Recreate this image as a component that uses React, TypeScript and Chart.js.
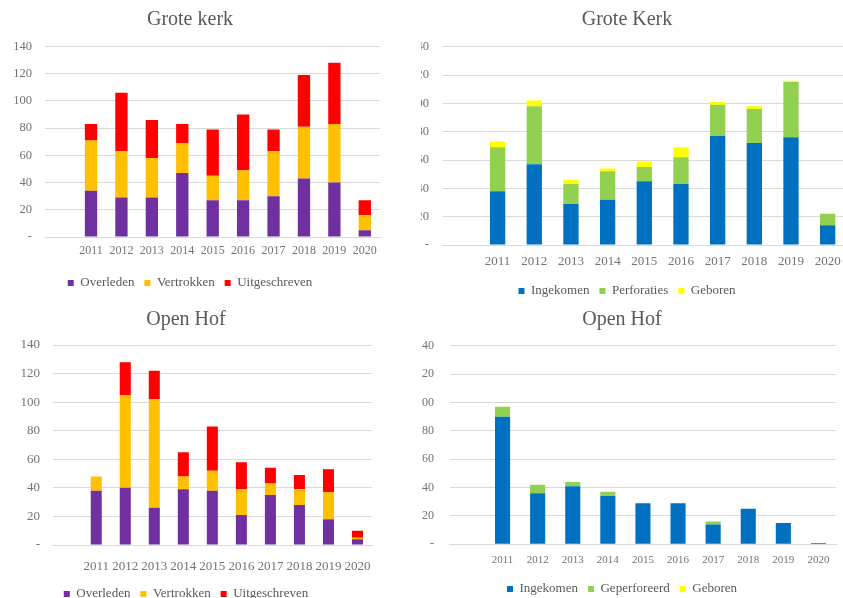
import React, { useEffect, useRef } from "react";
import Chart from "chart.js/auto";

// ---------- data ----------
const years = ["2011", "2012", "2013", "2014", "2015", "2016", "2017", "2018", "2019", "2020"];
const yTickMax = 140;
const yTickStep = 20;

// Grote kerk (uitgaand)
const gkOverleden = [34, 29, 29, 47, 27, 27, 30, 43, 40, 5];
const gkVertrokken = [37, 34, 29, 22, 18, 22, 33, 38, 43, 11];
const gkUitgeschreven = [12, 43, 28, 14, 34, 41, 16, 38, 45, 11];

// Grote Kerk (inkomend)
const gkIngekomen = [38, 57, 29, 32, 45, 43, 77, 72, 76, 14];
const gkPerforaties = [31, 41, 14, 20, 10, 19, 22, 24, 39, 8];
const gkGeboren = [4, 4, 3, 2, 4, 7, 2, 2, 1, 0];

// Open Hof (uitgaand)
const ohOverleden = [38, 40, 26, 39, 38, 21, 35, 28, 18, 4];
const ohVertrokken = [10, 65, 76, 9, 14, 18, 8, 11, 19, 1];
const ohUitgeschreven = [0, 23, 20, 17, 31, 19, 11, 10, 16, 5];

// Open Hof (inkomend)
const ohIngekomen = [90, 36, 41, 34, 29, 29, 14, 25, 15, 1];
const ohGeperforeerd = [7, 6, 3, 3, 0, 0, 2, 0, 0, 0];
const ohGeboren = [0, 0, 0, 0, 0, 0, 0, 0, 0, 0];

const outNames = ["Overleden", "Vertrokken", "Uitgeschreven"];
const outColors = ["#7030A0", "#FFC000", "#FF0000"];
const inColors = ["#0070C0", "#92D050", "#FFFF00"];

const FONT = "'Liberation Serif', 'Times New Roman', serif";
const TEXT = "#595959";
const TICK = "#737373";

type Spec = {
  title: string;
  names: string[];
  colors: string[];
  values: number[][];
  wrap: { left: number; top: number; width: number; height: number };
  canvas: { left: number; top: number; width: number; height: number };
  yAxisWidth: number;
  xAxisHeight: number;
  padRight: number;
  padBottom: number;
  titlePadTop: number;
  titlePadBottom: number;
  barPct: number;
  yFont: number;
  xFont: number;
  yPad: number;
  xPad: number;
};

const specs: Spec[] = [
  {
    title: "Grote kerk",
    names: outNames,
    colors: outColors,
    values: [gkOverleden, gkVertrokken, gkUitgeschreven],
    wrap: { left: 0, top: 0, width: 421, height: 300 },
    canvas: { left: 0, top: 0, width: 400, height: 300 },
    yAxisWidth: 45.4,
    xAxisHeight: 29.5,
    padRight: 20,
    padBottom: 0.5,
    titlePadTop: 8,
    titlePadBottom: 14.5,
    barPct: 0.405,
    yFont: 12.5,
    xFont: 12,
    yPad: 13.4,
    xPad: 7,
  },
  {
    title: "Grote Kerk",
    names: ["Ingekomen", "Perforaties", "Geboren"],
    colors: inColors,
    values: [gkIngekomen, gkPerforaties, gkGeboren],
    wrap: { left: 421, top: 0, width: 422, height: 300 },
    canvas: { left: -13, top: 0, width: 444, height: 310 },
    yAxisWidth: 34.6,
    xAxisHeight: 29.5,
    padRight: 6,
    padBottom: 2.5,
    titlePadTop: 8,
    titlePadBottom: 14.7,
    barPct: 0.417,
    yFont: 12.5,
    xFont: 13,
    yPad: 13.6,
    xPad: 9,
  },
  {
    title: "Open Hof",
    names: outNames,
    colors: outColors,
    values: [ohOverleden, ohVertrokken, ohUitgeschreven],
    wrap: { left: 0, top: 300, width: 421, height: 298 },
    canvas: { left: 0, top: 0, width: 398, height: 310 },
    yAxisWidth: 52.7,
    xAxisHeight: 32.5,
    padRight: 26,
    padBottom: -0.5,
    titlePadTop: 8,
    titlePadBottom: 13,
    barPct: 0.38,
    yFont: 13,
    xFont: 13,
    yPad: 12.7,
    xPad: 14,
  },
  {
    title: "Open Hof",
    names: ["Ingekomen", "Geperforeerd", "Geboren"],
    colors: inColors,
    values: [ohIngekomen, ohGeperforeerd, ohGeboren],
    wrap: { left: 421, top: 300, width: 422, height: 298 },
    canvas: { left: -13, top: 0, width: 442, height: 310 },
    yAxisWidth: 41.9,
    xAxisHeight: 28.2,
    padRight: 14,
    padBottom: 4.5,
    titlePadTop: 8,
    titlePadBottom: 13.7,
    barPct: 0.43,
    yFont: 12,
    xFont: 11,
    yPad: 16,
    xPad: 9.2,
  },
];

function BarChart({ spec }: { spec: Spec }) {
  const ref = useRef<HTMLCanvasElement | null>(null);
  useEffect(() => {
    if (!ref.current) return;
    const labels = ["", ...years];
    const chart = new Chart(ref.current, {
      type: "bar",
      data: {
        labels,
        datasets: spec.names.map((name, i) => ({
          label: name,
          data: [null, ...spec.values[i]],
          backgroundColor: spec.colors[i],
          borderWidth: 0,
          categoryPercentage: 1,
          barPercentage: spec.barPct,
        })),
      },
      options: {
        animation: false,
        responsive: false,
        devicePixelRatio: 1,
        layout: { padding: { left: 0, right: spec.padRight, top: 0, bottom: spec.padBottom } },
        plugins: {
          title: {
            display: true,
            text: spec.title,
            color: TEXT,
            font: { family: FONT, size: 20, weight: "normal" },
            padding: { top: spec.titlePadTop, bottom: spec.titlePadBottom },
          },
          legend: {
            display: true,
            position: "bottom",
            labels: {
              boxWidth: 6,
              boxHeight: 6,
              padding: 10,
              color: TEXT,
              font: { family: FONT, size: 13 },
            },
          },
          tooltip: { enabled: false },
        },
        scales: {
          x: {
            stacked: true,
            grid: { display: false, drawTicks: false },
            border: { display: true, color: "#d9d9d9" },
            ticks: {
              autoSkip: false,
              maxRotation: 0,
              minRotation: 0,
              color: TICK,
              padding: spec.xPad,
              font: { family: FONT, size: spec.xFont },
            },
            afterFit: (s: any) => {
              s.height = spec.xAxisHeight;
            },
          },
          y: {
            stacked: true,
            min: 0,
            max: yTickMax,
            grid: { color: "#d9d9d9", drawTicks: false },
            border: { display: false },
            ticks: {
              stepSize: yTickStep,
              color: TICK,
              padding: spec.yPad,
              font: { family: FONT, size: spec.yFont },
              callback: (v: any) => (Number(v) === 0 ? "-" : String(v)),
            },
            afterFit: (s: any) => {
              s.width = spec.yAxisWidth;
            },
          },
        },
      },
    } as any);
    return () => chart.destroy();
  }, [spec]);
  return (
    <div
      style={{
        position: "absolute",
        left: spec.wrap.left,
        top: spec.wrap.top,
        width: spec.wrap.width,
        height: spec.wrap.height,
        overflow: "hidden",
      }}
    >
      <canvas
        ref={ref}
        width={spec.canvas.width}
        height={spec.canvas.height}
        style={{
          position: "absolute",
          left: spec.canvas.left,
          top: spec.canvas.top,
          width: spec.canvas.width,
          height: spec.canvas.height,
        }}
      />
    </div>
  );
}

export default function App() {
  return (
    <div
      style={{
        position: "fixed",
        left: 0,
        top: 0,
        width: 843,
        height: 598,
        overflow: "hidden",
        background: "#ffffff",
      }}
    >
      {specs.map((s, i) => (
        <BarChart key={i} spec={s} />
      ))}
    </div>
  );
}
